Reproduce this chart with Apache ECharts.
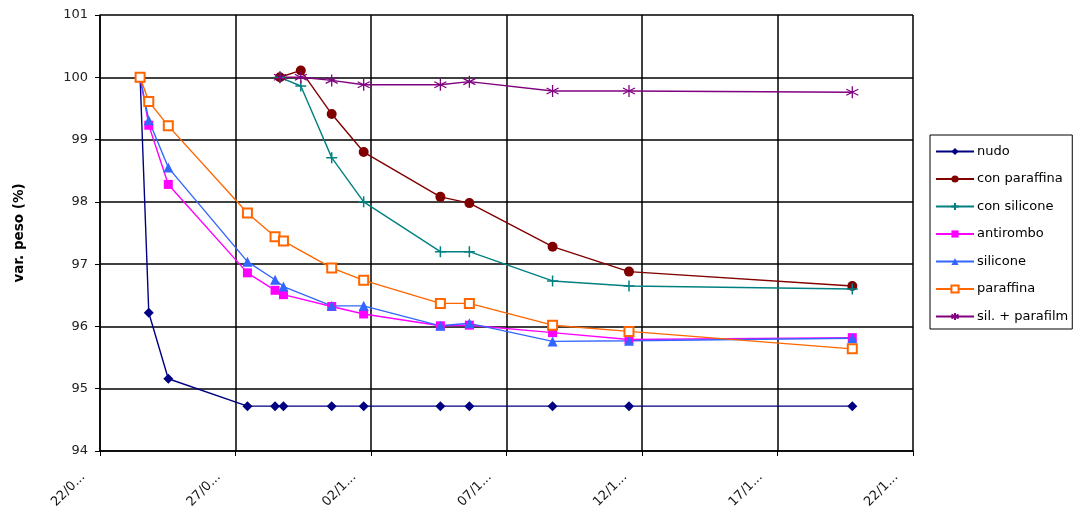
<!DOCTYPE html>
<html>
<head>
<meta charset="utf-8">
<script src="https://cdn.jsdelivr.net/npm/echarts@6/dist/echarts.min.js"></script>
<style>
html,body{margin:0;padding:0;background:#fff;}
#chart{width:1074px;height:517px;}
</style>
</head>
<body>
<div id="chart"></div>
<script>
// Days elapsed since 22/09 (x positions)
const daysA = [1.48, 1.80, 2.52, 5.44, 6.46, 6.77, 8.55, 9.73, 12.56, 13.63, 16.70, 19.52, 27.76];
const daysB = [6.64, 7.41, 8.55, 9.73, 12.56, 13.63, 16.70, 19.52, 27.76];

const nudo         = [100, 96.22, 95.16, 94.72, 94.72, 94.72, 94.72, 94.72, 94.72, 94.72, 94.72, 94.72, 94.72];
const antirombo    = [100, 99.23, 98.28, 96.86, 96.58, 96.51, 96.32, 96.20, 96.01, 96.02, 95.90, 95.79, 95.82];
const silicone     = [100, 99.31, 98.55, 97.04, 96.75, 96.64, 96.33, 96.33, 96.01, 96.05, 95.76, 95.77, 95.81];
const paraffina    = [100, 99.61, 99.22, 97.82, 97.44, 97.37, 96.94, 96.74, 96.37, 96.37, 96.02, 95.92, 95.64];
const conParaffina = [100, 100.11, 99.41, 98.80, 98.08, 97.98, 97.28, 96.88, 96.65];
const conSilicone  = [100, 99.86, 98.71, 98.00, 97.20, 97.20, 96.73, 96.65, 96.60];
const silParafilm  = [100, 100.00, 99.95, 99.88, 99.88, 99.93, 99.78, 99.78, 99.76];

const xTickLabels = ['22/0...', '27/0...', '02/1...', '07/1...', '12/1...', '17/1...', '22/1...'];
const yTickLabels = ['94', '95', '96', '97', '98', '99', '100', '101'];
const seriesNames = ['nudo', 'con paraffina', 'con silicone', 'antirombo', 'silicone', 'paraffina', 'sil. + parafilm'];

const FONT = '"DejaVu Sans", "Liberation Sans", Arial, sans-serif';
const pair = (xs, ys) => xs.map((x, i) => [x, ys[i]]);

const PLUS = 'path://M5,0L5,10M0,5L10,5';
const STAR = 'path://M5,0L5,10M0.67,2.5L9.33,7.5M0.67,7.5L9.33,2.5';

function mk(name, xs, ys, color, symbol, size, extraItem) {
  return {
    name: name,
    type: 'line',
    data: pair(xs, ys),
    symbol: symbol,
    symbolSize: size,
    showAllSymbol: true,
    color: color,
    lineStyle: { color: color, width: 1.4 },
    itemStyle: Object.assign({ color: color }, extraItem || {}),
    emphasis: { disabled: true },
    z: 3
  };
}

const chart = echarts.init(document.getElementById('chart'), null, { renderer: 'canvas' });
chart.setOption({
  animation: false,
  backgroundColor: '#fff',
  grid: { left: 100, right: 161, top: 15, bottom: 66, containLabel: false },
  xAxis: {
    type: 'value',
    min: 0, max: 30, interval: 5,
    axisLine: { show: true, lineStyle: { color: '#000', width: 1.5 } },
    axisTick: { show: true, length: 5, lineStyle: { color: '#000' } },
    splitLine: { show: true, lineStyle: { color: '#000', width: 1.5 } },
    axisLabel: {
      rotate: 45,
      margin: 7,
      padding: [0, 24, 0, 0],
      fontFamily: FONT, fontSize: 13, color: '#111',
      formatter: v => xTickLabels[Math.round(v / 5)] || ''
    }
  },
  yAxis: {
    type: 'value',
    min: 94, max: 101, interval: 1,
    name: 'var. peso (%)',
    nameLocation: 'middle',
    nameGap: 74,
    nameTextStyle: { fontFamily: FONT, fontSize: 13.5, fontWeight: 'bold', color: '#000' },
    axisLine: { show: true, lineStyle: { color: '#000', width: 1.5 } },
    axisTick: { show: true, length: 5, lineStyle: { color: '#000' } },
    splitLine: { show: true, lineStyle: { color: '#000', width: 1.5 } },
    axisLabel: {
      margin: 12,
      fontFamily: FONT, fontSize: 13, color: '#222',
      formatter: v => yTickLabels[Math.round(v - 94)] || ''
    }
  },
  legend: {
    orient: 'vertical',
    left: 930, top: 135,
    padding: [10, 4, 6, 5],
    itemWidth: 38, itemHeight: 9, itemGap: 14.5,
    borderColor: '#000', borderWidth: 1,
    backgroundColor: '#fff',
    textStyle: { fontFamily: FONT, fontSize: 13, color: '#000', padding: [0, 0, 0, -2] },
    data: seriesNames
  },
  series: [
    mk(seriesNames[0], daysA, nudo, '#000080', 'diamond', 10),
    mk(seriesNames[1], daysB, conParaffina, '#800000', 'circle', 10),
    mk(seriesNames[2], daysB, conSilicone, '#008080', PLUS, 11, { borderColor: '#008080', borderWidth: 1.5 }),
    mk(seriesNames[3], daysA, antirombo, '#FF00FF', 'rect', 9),
    mk(seriesNames[4], daysA, silicone, '#3366FF', 'triangle', 10),
    mk(seriesNames[5], daysA, paraffina, '#FF6600', 'emptyRect', 9, { borderWidth: 1.5 }),
    mk(seriesNames[6], daysB, silParafilm, '#800080', STAR, 12, { borderColor: '#800080', borderWidth: 1.3 })
  ]
});
</script>
</body>
</html>
